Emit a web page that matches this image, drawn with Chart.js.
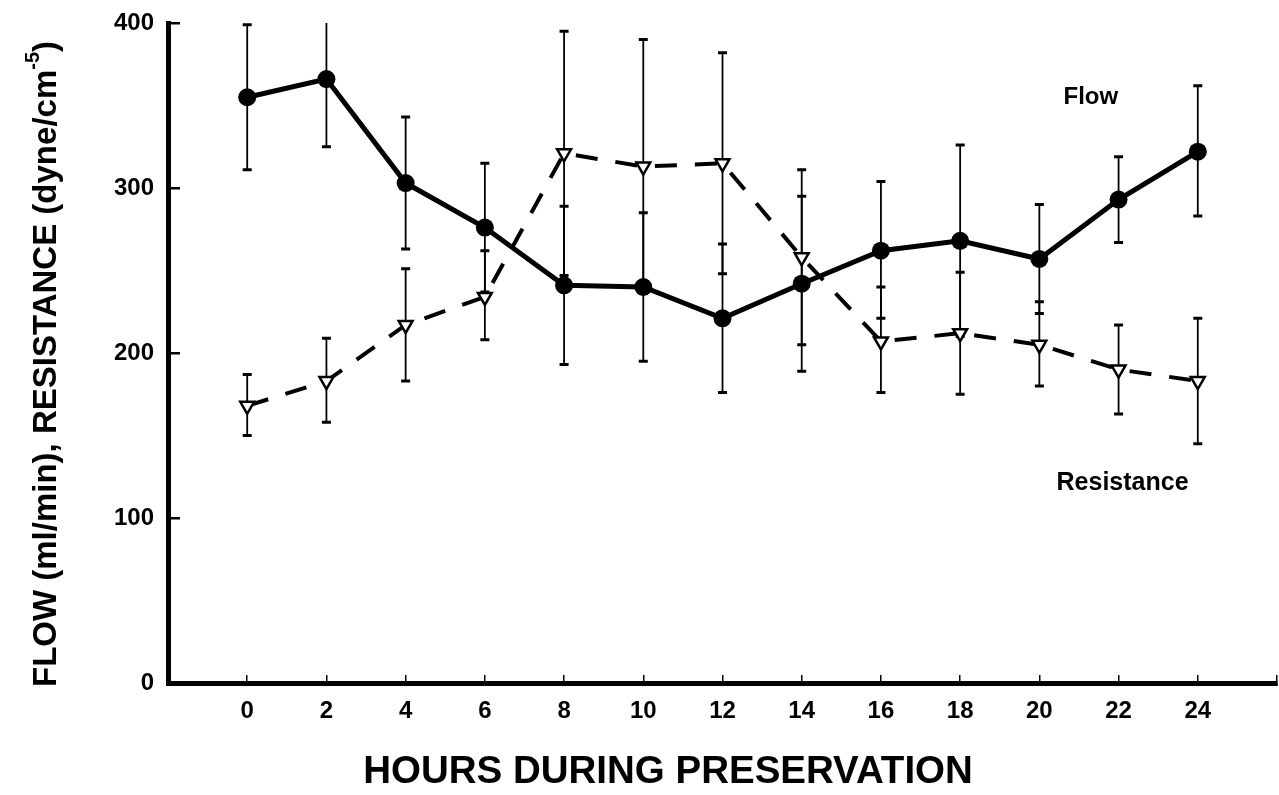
<!DOCTYPE html>
<html>
<head>
<meta charset="utf-8">
<title>Flow and resistance during preservation</title>
<script src="https://cdn.jsdelivr.net/npm/chart.js@4.4.0/dist/chart.umd.min.js"></script>
<style>
  html, body { margin: 0; padding: 0; background: #fff; }
  #wrap { width: 1279px; height: 795px; }
</style>
</head>
<body>
<div id="wrap"><canvas id="chart" width="1279" height="795"></canvas></div>
<script>
// hours of preservation
const hours = [0, 2, 4, 6, 8, 10, 12, 14, 16, 18, 20, 22, 24];
const xTickLabels = [0, 2, 4, 6, 8, 10, 12, 14, 16, 18, 20, 22, 24];
const yTickLabels = [0, 100, 200, 300, 400];

// flow (ml/min), mean with upper/lower error bar ends
const flow   = [355, 366, 303, 276, 241, 240, 221, 242, 262, 268, 257, 293, 322];
const flowHi = [399, 406, 343, 315, 289, 285, 266, 295, 304, 326, 290, 319, 362];
const flowLo = [311, 325, 263, 237, 193, 195, 176, 189, 221, 210, 224, 267, 283];

// resistance (dyne/cm-5)
const res   = [168, 183, 217, 234, 321, 313, 315, 258, 207, 212, 205, 190, 183];
const resHi = [187, 209, 251, 262, 395, 390, 382, 311, 240, 249, 231, 217, 221];
const resLo = [150, 158, 183, 208, 247, 236, 248, 205, 176, 175, 180, 163, 145];

const FONT = '"Liberation Sans", Arial, sans-serif';

const errorBars = {
    id: 'errorBars',
    beforeDatasetsDraw(chart) {
        const { ctx, chartArea, scales: { x, y } } = chart;
        ctx.save();
        ctx.beginPath();
        ctx.rect(chartArea.left, chartArea.top, chartArea.width, chartArea.height);
        ctx.clip();
        ctx.strokeStyle = '#000';
        [[resHi, resLo], [flowHi, flowLo]].forEach(([hi, lo]) => {
            hours.forEach((h, i) => {
                const px = x.getPixelForValue(h);
                const top = y.getPixelForValue(hi[i]);
                const bot = y.getPixelForValue(lo[i]);
                ctx.lineWidth = 1.8;
                ctx.beginPath();
                ctx.moveTo(px, top);
                ctx.lineTo(px, bot);
                ctx.stroke();
                ctx.lineWidth = 3;
                ctx.beginPath();
                ctx.moveTo(px - 4.5, top); ctx.lineTo(px + 4.5, top);
                ctx.moveTo(px - 4.5, bot); ctx.lineTo(px + 4.5, bot);
                ctx.stroke();
            });
        });
        ctx.restore();
    }
};

const texts = {
    id: 'texts',
    afterDraw(chart) {
        const { ctx, scales: { x, y } } = chart;
        ctx.save();
        ctx.fillStyle = '#000';
        ctx.textAlign = 'center';
        ctx.textBaseline = 'middle';
        // series labels
        ctx.font = 'bold 24px ' + FONT;
        ctx.fillText('Flow', x.getPixelForValue(21.3), y.getPixelForValue(355));
        ctx.font = 'bold 25px ' + FONT;
        ctx.fillText('Resistance', x.getPixelForValue(22.1), y.getPixelForValue(121));
        // x axis title
        ctx.font = 'bold 38.5px ' + FONT;
        ctx.fillText('HOURS DURING PRESERVATION', 668, 772);
        // y axis title, with superscript
        ctx.translate(47, 364);
        ctx.rotate(-Math.PI / 2);
        const main = 'FLOW (ml/min), RESISTANCE (dyne/cm';
        ctx.font = 'bold 33px ' + FONT;
        const wMain = ctx.measureText(main).width;
        const wClose = ctx.measureText(')').width;
        ctx.font = 'bold 20px ' + FONT;
        const wSup = ctx.measureText('-5').width;
        let cx = -(wMain + wSup + wClose) / 2;
        ctx.textAlign = 'left';
        ctx.font = 'bold 33px ' + FONT;
        ctx.fillText(main, cx, 0);
        cx += wMain;
        ctx.font = 'bold 20px ' + FONT;
        ctx.fillText('-5', cx, -14);
        cx += wSup;
        ctx.font = 'bold 33px ' + FONT;
        ctx.fillText(')', cx, 0);
        ctx.restore();
    }
};

const ctx = document.getElementById('chart').getContext('2d');
new Chart(ctx, {
    type: 'line',
    data: {
        datasets: [{
            label: 'Flow',
            data: hours.map((h, i) => ({ x: h, y: flow[i] })),
            borderColor: '#000',
            borderWidth: 5,
            pointStyle: 'circle',
            pointRadius: 9,
            pointBackgroundColor: '#000',
            pointBorderColor: '#000',
            pointBorderWidth: 0,
            tension: 0,
            order: 1
        }, {
            label: 'Resistance',
            data: hours.map((h, i) => ({ x: h, y: res[i] })),
            borderColor: '#000',
            borderWidth: 4,
            borderDash: [22, 18],
            pointStyle: 'triangle',
            rotation: 180,
            pointRadius: 8,
            pointBackgroundColor: '#fff',
            pointBorderColor: '#000',
            pointBorderWidth: 2.5,
            tension: 0,
            order: 2
        }]
    },
    options: {
        responsive: false,
        animation: false,
        events: [],
        layout: { autoPadding: false, padding: { top: 23, right: 2, left: 0, bottom: 0 } },
        plugins: {
            legend: { display: false },
            tooltip: { enabled: false }
        },
        scales: {
            x: {
                type: 'linear',
                min: -2,
                max: 26,
                afterFit: (scale) => {
                    scale.height = 112;
                    scale.paddingLeft = 0;
                    scale.paddingRight = 0;
                },
                afterBuildTicks: (scale) => {
                    const t = [];
                    for (let v = -2; v <= 26; v += 2) t.push({ value: v });
                    scale.ticks = t;
                },
                border: { display: true, color: '#000', width: 5 },
                grid: {
                    drawOnChartArea: false,
                    drawTicks: true,
                    tickLength: -8,
                    color: '#000',
                    lineWidth: 1.5
                },
                ticks: {
                    padding: 22,
                    color: '#000',
                    maxRotation: 0,
                    autoSkip: false,
                    font: { family: FONT, size: 24, weight: 'bold' },
                    callback: (v) => xTickLabels.includes(v) ? String(v) : ''
                }
            },
            y: {
                min: 0,
                max: 400,
                afterFit: (scale) => {
                    scale.width = 168;
                    scale.paddingTop = 0;
                    scale.paddingBottom = 0;
                },
                border: { display: true, color: '#000', width: 5 },
                grid: {
                    drawOnChartArea: false,
                    drawTicks: true,
                    tickLength: -12,
                    color: '#000',
                    lineWidth: 2.5
                },
                ticks: {
                    stepSize: 100,
                    padding: 26,
                    color: '#000',
                    font: { family: FONT, size: 24, weight: 'bold' },
                    callback: (v) => yTickLabels.includes(v) ? String(v) : ''
                }
            }
        }
    },
    plugins: [errorBars, texts]
});
</script>
</body>
</html>
